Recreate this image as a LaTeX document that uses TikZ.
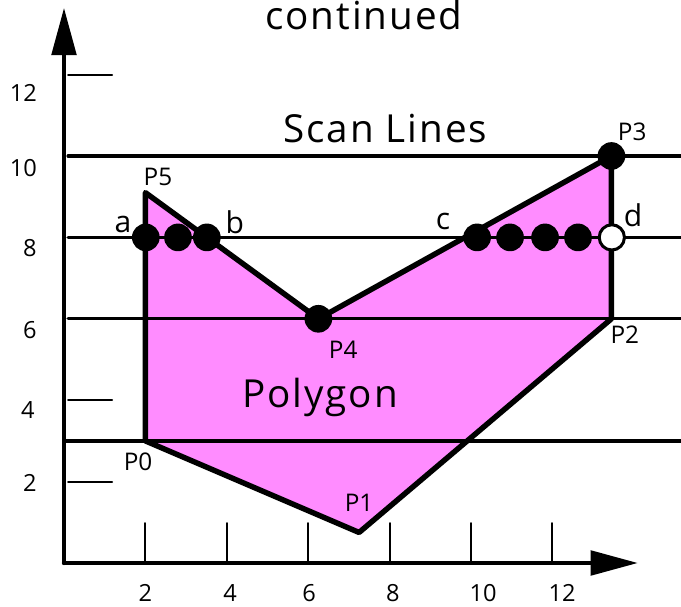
\documentclass[tikz,border=0pt]{standalone}
\usepackage{fontspec}
\setmainfont{Open Sans}
\newfontfamily\sketchfont[LetterSpace=5]{Open Sans}
\usepackage{tikz}
\usetikzlibrary{arrows.meta}
\usepackage{xcolor}
\definecolor{polypink}{RGB}{255,140,255}

\begin{document}
\begin{tikzpicture}[>={Triangle[length=33pt,width=17pt]},line cap=round,
  axisline/.style={line width=3pt},
  scanline/.style={line width=2.3pt},
  polyedge/.style={line width=3.8pt,line join=round},
  tickmark/.style={line width=1.4pt},
  dot/.style={circle,fill=black,inner sep=0pt,minimum size=0.68cm},
  opendot/.style={circle,draw=black,fill=white,line width=2.1pt,inner sep=0pt,minimum size=0.62cm},
  numlbl/.style={font=\fontsize{16.5}{16.5}\selectfont,inner sep=0pt},
  ptlbl/.style={font=\fontsize{17}{17}\selectfont,inner sep=0pt},
  letlbl/.style={font=\fontsize{21}{21}\selectfont,inner sep=0pt},
  biglbl/.style={font=\sketchfont\fontsize{27}{27}\selectfont,anchor=base,inner sep=0pt}]
\useasboundingbox (-1.5725,-1.0811) rectangle (15.1597,13.8329);
\coordinate (P0) at (2,3);
\coordinate (P1) at (7.25,0.75);
\coordinate (P2) at (13.45,6);
\coordinate (P3) at (13.45,10);
\coordinate (P4) at (6.25,6);
\coordinate (P5) at (2,9.1);
\fill[polypink] (P0) -- (P1) -- (P2) -- (P3) -- (P4) -- (P5) -- cycle;
\draw[scanline] (0,3) -- (15.16,3);
\draw[scanline] (0.1,6) -- (15.16,6);
\draw[scanline] (0.1,8) -- (15.16,8);
\draw[scanline] (0.1,10) -- (15.16,10);
\draw[polyedge] (P0) -- (P1) -- (P2) -- (P3) -- (P4) -- (P5) -- cycle;
\draw[tickmark] (0.1,0) -- (1.18,0);
\draw[tickmark] (0.1,2) -- (1.18,2);
\draw[tickmark] (0.1,4) -- (1.18,4);
\draw[tickmark] (0.1,10) -- (1.18,10);
\draw[tickmark] (0.1,12) -- (1.18,12);
\draw[tickmark] (2,0) -- (2,0.98);
\draw[tickmark] (4,0) -- (4,0.98);
\draw[tickmark] (6,0) -- (6,0.98);
\draw[tickmark] (8,0) -- (8,0.98);
\draw[tickmark] (10,0) -- (10,0.98);
\draw[tickmark] (12,0) -- (12,0.98);
\draw[axisline,->] (0,0) -- (0,13.64);
\draw[axisline,->] (0,0) -- (14.1,0);
\node[numlbl] (x2) at (2,-0.74) {2};
\node[numlbl] (x4) at (4.08,-0.74) {4};
\node[numlbl] (x6) at (6.02,-0.74) {6};
\node[numlbl] (x8) at (8.08,-0.74) {8};
\node[numlbl] (x10) at (10.3,-0.74) {10};
\node[numlbl] (x12) at (12.24,-0.74) {12};
\node[numlbl] (y2) at (-0.84,1.97) {2};
\node[numlbl] (y4) at (-0.89,3.76) {4};
\node[numlbl] (y6) at (-0.84,5.72) {6};
\node[numlbl] (y8) at (-0.84,7.74) {8};
\node[numlbl] (y10) at (-1.0,9.7) {10};
\node[numlbl] (y12) at (-1.0,11.55) {12};
\node[dot] (p3dot) at (P3) {};
\node[dot] (p4dot) at (P4) {};
\node[dot] (a) at (2.01,8) {};
\node[dot] (ab) at (2.80,8) {};
\node[dot] (b) at (3.51,8) {};
\node[dot] (c) at (10.15,8) {};
\node[dot] (cd1) at (10.96,8) {};
\node[dot] (cd2) at (11.82,8) {};
\node[dot] (cd3) at (12.63,8) {};
\node[opendot] (d) at (13.46,8) {};
\node[letlbl] (alabel) at (1.45,8.32) {a};
\node[letlbl] (blabel) at (4.2,8.38) {b};
\node[letlbl] (clabel) at (9.31,8.38) {c};
\node[letlbl] (dlabel) at (13.98,8.55) {d};
\node[ptlbl] (p0label) at (1.82,2.48) {P0};
\node[ptlbl] (p1label) at (7.25,1.47) {P1};
\node[ptlbl] (p2label) at (13.78,5.6) {P2};
\node[ptlbl] (p3label) at (13.96,10.59) {P3};
\node[ptlbl] (p4label) at (6.86,5.23) {P4};
\node[ptlbl] (p5label) at (2.31,9.48) {P5};
\node[biglbl] (title) at (7.37,13.1) {continued};
\node[biglbl] (scanlabel) at (7.89,10.34) {Scan Lines};
\node[biglbl] (polylabel) at (6.29,3.81) {Polygon};
\end{tikzpicture}
\end{document}
